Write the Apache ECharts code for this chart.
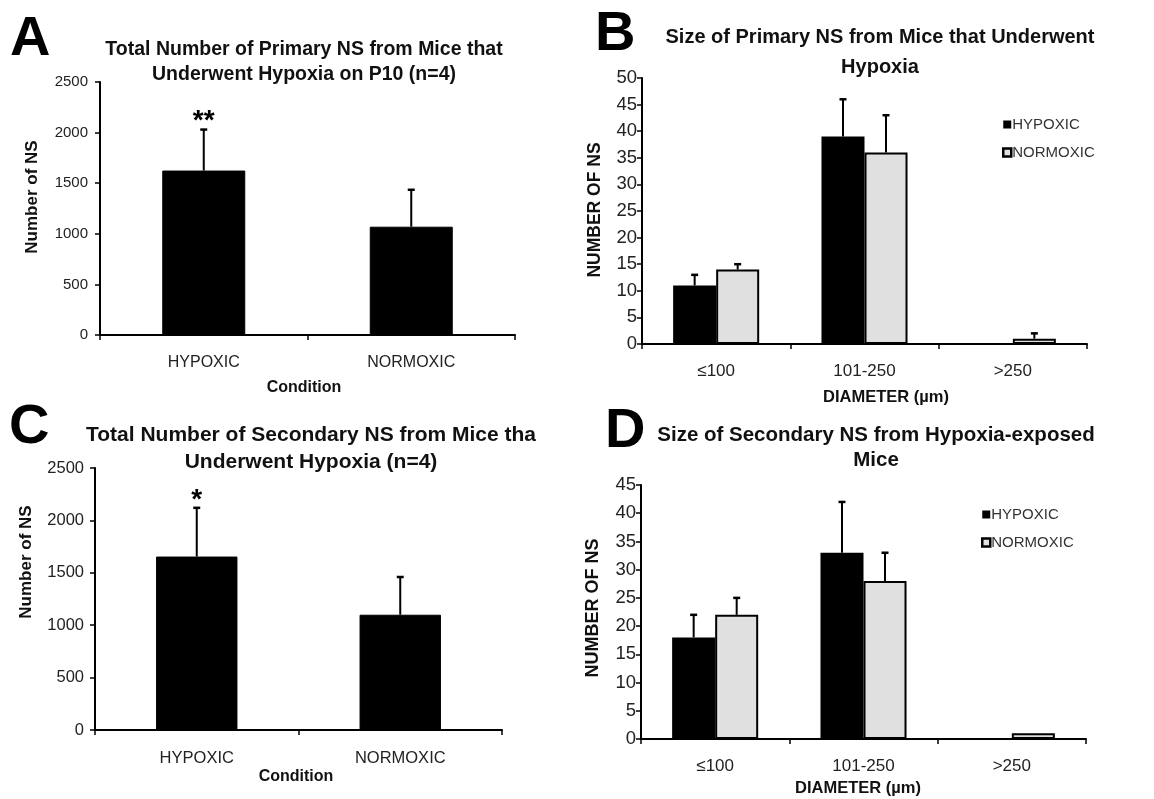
<!DOCTYPE html>
<html><head><meta charset="utf-8">
<script src="https://cdn.jsdelivr.net/npm/echarts@6/dist/echarts.min.js"></script>
<style>html,body{margin:0;padding:0;background:#fff}#c{width:1154px;height:799px}</style>
</head><body><div id="c"></div>
<script>
// ---- data ----
const condCats = ['HYPOXIC', 'NORMOXIC'];
const primaryTotal = [1625, 1070];
const primaryTotalErr = [405, 365];
const primarySig = ['**', ''];
const secondaryTotal = [1655, 1100];
const secondaryTotalErr = [465, 360];
const secondarySig = ['*', ''];

const sizeCats = ['≤100', '101-250', '>250'];
const primHyp = [11, 39, 0];
const primHypErr = [2, 7, 0];
const primNorm = [14, 36, 1];
const primNormErr = [1, 7, 1];
const secHyp = [18, 33, 0];
const secHypErr = [4, 9, 0];
const secNorm = [22, 28, 1];
const secNormErr = [3, 5, 0];

const yTotalMax = 2500, yTotalStep = 500;
const yPrimSizeMax = 50, ySecSizeMax = 45, ySizeStep = 5;

const FONT = '"Liberation Sans", Arial, sans-serif';

function errData(vals, errs, sig) {
  return vals.map((v, i) => [i, v, errs[i], sig ? sig[i] : '']);
}
function errRender(offsetFrac) {
  return function (params, api) {
    const idx = api.value(0), v = api.value(1), e = api.value(2);
    const sig = api.value(3);
    const base = api.coord([idx, v]);
    const top = api.coord([idx, v + e]);
    const bw = api.size([1, 0])[0];
    const x = base[0] + offsetFrac * bw;
    const children = [];
    if (e > 0) {
      children.push({type: 'line', shape: {x1: x, y1: base[1], x2: x, y2: top[1]},
        style: {stroke: '#000', lineWidth: 2}});
      children.push({type: 'line', shape: {x1: x - 3.5, y1: top[1], x2: x + 3.5, y2: top[1]},
        style: {stroke: '#000', lineWidth: 2.5}});
    }
    if (sig) {
      children.push({type: 'text', x: x, y: top[1] + 6,
        style: {text: sig, fontSize: 28, fontWeight: 'bold', fill: '#000', fontFamily: FONT,
          align: 'center', verticalAlign: 'bottom'}});
    }
    return {type: 'group', children: children};
  };
}

const grids = [
  {left: 100, top: 82, right: 639, bottom: 464},
  {left: 642, top: 78, right: 67, bottom: 455},
  {left: 95, top: 468, right: 652, bottom: 69},
  {left: 641, top: 485, right: 68, bottom: 60}
];

function xAxis(gi, cats, fontSize, labelMargin) {
  return {
    gridIndex: gi, type: 'category', data: cats,
    axisLine: {lineStyle: {color: '#000', width: 2}},
    axisTick: {show: true, length: 5, lineStyle: {color: '#000', width: 1.5}},
    axisLabel: {fontFamily: FONT, fontSize: fontSize, color: '#222', margin: labelMargin}
  };
}
function yAxis(gi, max, interval, fontSize, margin) {
  return {
    gridIndex: gi, type: 'value', min: 0, max: max, interval: interval,
    axisLine: {show: true, lineStyle: {color: '#000', width: 2}},
    axisTick: {show: true, length: 5, lineStyle: {color: '#000', width: 1.5}},
    axisLabel: {fontFamily: FONT, fontSize: fontSize, color: '#222', margin: margin,
      formatter: (v) => String(v)},
    splitLine: {show: false}
  };
}

const hypStyle = {color: '#000', borderColor: '#000', borderWidth: 1.5};
const normStyle = {color: '#e0e0e0', borderColor: '#000', borderWidth: 2};

function txt(x, y, s, size, bold, extra) {
  return Object.assign({type: 'text', x: x, y: y,
    style: {text: s, fontSize: size, fontWeight: bold ? 'bold' : 'normal', fontFamily: FONT, fill: '#111',
      align: 'center', verticalAlign: 'middle'}}, extra || {});
}
function vtxt(x, y, s, size) {
  return txt(x, y, s, size, true, {rotation: Math.PI / 2});
}
function letter(x, y, s) {
  return {type: 'text', x: x, y: y, style: {text: s, fontSize: 56, fontWeight: 'bold', fontFamily: FONT, fill: '#000', verticalAlign: 'middle'}};
}

const legendBase = {data: [{name: 'HYPOXIC', icon: 'rect', itemStyle: {borderWidth: 0}}, {name: 'NORMOXIC', icon: 'rect', itemStyle: {borderWidth: 2.5}}],
  orient: 'vertical', itemWidth: 8, itemHeight: 8, itemGap: 13, selectedMode: false,
  textStyle: {fontFamily: FONT, fontSize: 15, color: '#333', padding: [0, 0, 0, -4]}};

const option = {
  backgroundColor: '#fff',
  animation: false,
  grid: grids,
  xAxis: [
    xAxis(0, condCats, 16, 20),
    xAxis(1, sizeCats, 17, 19),
    xAxis(2, condCats, 16.5, 20),
    xAxis(3, sizeCats, 17, 19)
  ],
  yAxis: [
    yAxis(0, yTotalMax, yTotalStep, 15, 12),
    yAxis(1, yPrimSizeMax, ySizeStep, 18.5, 5),
    yAxis(2, yTotalMax, yTotalStep, 16.5, 11),
    yAxis(3, ySecSizeMax, ySizeStep, 18.5, 5)
  ],
  legend: [
    Object.assign({left: 997, top: 112}, legendBase),
    Object.assign({left: 976, top: 502}, legendBase)
  ],
  series: [
    {type: 'bar', name: 'A', xAxisIndex: 0, yAxisIndex: 0, data: primaryTotal, barCategoryGap: '60%',
      itemStyle: {color: '#000', borderColor: '#000', borderWidth: 1}},
    {type: 'custom', xAxisIndex: 0, yAxisIndex: 0, data: errData(primaryTotal, primaryTotalErr, primarySig),
      renderItem: errRender(0), z: 5},
    {type: 'bar', name: 'C', xAxisIndex: 2, yAxisIndex: 2, data: secondaryTotal, barCategoryGap: '60%',
      itemStyle: {color: '#000', borderColor: '#000', borderWidth: 1}},
    {type: 'custom', xAxisIndex: 2, yAxisIndex: 2, data: errData(secondaryTotal, secondaryTotalErr, secondarySig),
      renderItem: errRender(0), z: 5},

    {type: 'bar', name: 'HYPOXIC', xAxisIndex: 1, yAxisIndex: 1, data: primHyp, barGap: '0%', barCategoryGap: '42%', itemStyle: hypStyle},
    {type: 'bar', name: 'NORMOXIC', xAxisIndex: 1, yAxisIndex: 1, data: primNorm, barGap: '0%', barCategoryGap: '42%', itemStyle: normStyle},
    {type: 'custom', xAxisIndex: 1, yAxisIndex: 1, data: errData(primHyp, primHypErr), renderItem: errRender(-0.145), z: 5},
    {type: 'custom', xAxisIndex: 1, yAxisIndex: 1, data: errData(primNorm, primNormErr), renderItem: errRender(0.145), z: 5},

    {type: 'bar', name: 'HYPOXIC', xAxisIndex: 3, yAxisIndex: 3, data: secHyp, barGap: '0%', barCategoryGap: '42%', itemStyle: hypStyle},
    {type: 'bar', name: 'NORMOXIC', xAxisIndex: 3, yAxisIndex: 3, data: secNorm, barGap: '0%', barCategoryGap: '42%', itemStyle: normStyle},
    {type: 'custom', xAxisIndex: 3, yAxisIndex: 3, data: errData(secHyp, secHypErr), renderItem: errRender(-0.145), z: 5},
    {type: 'custom', xAxisIndex: 3, yAxisIndex: 3, data: errData(secNorm, secNormErr), renderItem: errRender(0.145), z: 5}
  ],
  graphic: [
    letter(10, 40, 'A'),
    letter(595, 35, 'B'),
    letter(9, 428, 'C'),
    letter(605, 432, 'D'),

    txt(304, 50, 'Total Number of Primary NS from Mice that', 19.5, true),
    txt(304, 75, 'Underwent Hypoxia on P10 (n=4)', 19.5, true),
    txt(880, 37, 'Size of Primary NS from Mice that Underwent', 20, true),
    txt(880, 67, 'Hypoxia', 20, true),
    txt(311, 435, 'Total Number of Secondary NS from Mice tha', 21, true),
    txt(311, 462, 'Underwent Hypoxia (n=4)', 21, true),
    txt(876, 435, 'Size of Secondary NS from Hypoxia-exposed', 20.5, true),
    txt(876, 460, 'Mice', 20.5, true),

    txt(304, 388, 'Condition', 16, true),
    txt(886, 397, 'DIAMETER (µm)', 16.5, true),
    txt(296, 777, 'Condition', 16, true),
    txt(858, 788, 'DIAMETER (µm)', 16.5, true),

    vtxt(32, 197, 'Number of NS', 17),
    vtxt(595, 210, 'NUMBER OF NS', 17.5),
    vtxt(26, 562, 'Number of NS', 17),
    vtxt(593, 608, 'NUMBER OF NS', 18)
  ]
};

const chart = echarts.init(document.getElementById('c'), null, {renderer: 'canvas'});
chart.setOption(option);
</script>
</body></html>
